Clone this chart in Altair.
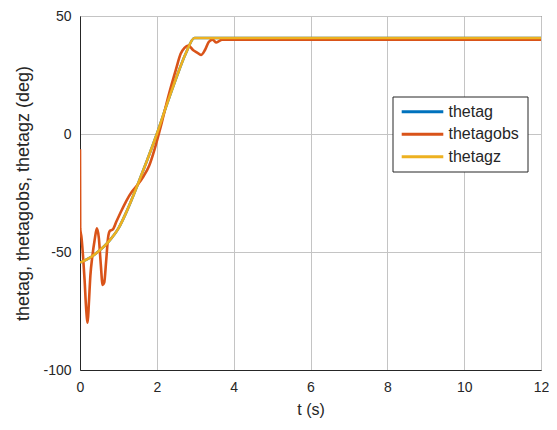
import altair as alt
import pandas as pd

# thetag (hidden under thetagz)
t_g = [0, 0.25, 0.5, 0.75, 1.0, 1.25, 1.5, 1.75, 2.0, 2.25, 2.5, 2.75, 2.98, 12]
v_g = [-54.5, -52.5, -49.5, -45.5, -40, -31.5, -21.5, -11, 0, 12, 23.5, 34, 40.7, 40.7]

# thetagobs
t_obs = [0, 0.005, 0.04, 0.08, 0.12, 0.16, 0.2, 0.23, 0.27, 0.32, 0.38, 0.44, 0.49,
         0.54, 0.59, 0.63, 0.68, 0.73, 0.78, 0.85, 0.95, 1.05, 1.2, 1.35, 1.5, 1.65,
         1.8, 1.95, 2.1, 2.3, 2.5, 2.62, 2.72, 2.82, 2.95, 3.05, 3.15, 3.25, 3.35,
         3.45, 3.55, 3.7, 12]
v_obs = [-6.5, -40, -44, -52, -62, -74, -80, -72, -60, -52, -45, -40, -44,
         -55, -64, -63, -54, -44, -41, -40.5, -37, -33.5, -28.5, -24.5, -21.5, -18,
         -13.5, -6, 3, 16, 27.5, 34, 36.5, 37.5, 35.5, 34.5, 33.5, 35.5, 39,
         40, 38.8, 40, 40]

# thetagz
t_z = [0, 0.25, 0.5, 0.75, 1.0, 1.25, 1.5, 1.75, 2.0, 2.25, 2.5, 2.75, 2.98, 12]
v_z = [-54.5, -52.5, -49.5, -45.5, -40, -31.5, -21.5, -11, 0, 12, 23.5, 34, 40.7, 40.7]

series = ["thetag", "thetagobs", "thetagz"]
colors = ["#0072BD", "#D95319", "#EDB120"]

rows = []
for name, ts, vs in [("thetag", t_g, v_g), ("thetagobs", t_obs, v_obs), ("thetagz", t_z, v_z)]:
    for i, (t, v) in enumerate(zip(ts, vs)):
        rows.append({"t": t, "v": v, "s": name, "i": i})
df = pd.DataFrame(rows)

font = "Liberation Sans"
ink = "#262626"

lines = alt.Chart(df).mark_line(strokeWidth=2.6, clip=True, interpolate="monotone").encode(
    x=alt.X("t:Q", scale=alt.Scale(domain=[0, 12], nice=False),
            axis=alt.Axis(values=[0, 2, 4, 6, 8, 10, 12], title="t (s)", ticks=False,
                          labelFlush=False, labelPadding=10, titlePadding=7,
                          titleFontSize=16)),
    y=alt.Y("v:Q", scale=alt.Scale(domain=[-100, 50], nice=False),
            axis=alt.Axis(values=[-100, -50, 0, 50], title="thetag, thetagobs, thetagz (deg)",
                          labelExpr="'' + datum.value",
                          ticks=False, labelFlush=False, labelPadding=9, titlePadding=10,
                          titleFontSize=18)),
    color=alt.Color("s:N", scale=alt.Scale(domain=series, range=colors), legend=None),
    order="i:Q",
)

# manual legend box (pixel positions relative to the plot area)
box_x0, box_x1, box_y0, box_y1 = 313, 448, 81, 156
row_y = [95.7, 118.3, 140.7]
sym_x0, sym_x1, lab_x = 321.7, 363.3, 368.5

one = pd.DataFrame({"k": [0]})
layers = [lines,
          alt.Chart(one).mark_rect(fill="white", stroke=ink, strokeWidth=1).encode(
              x=alt.value(box_x0), x2=alt.value(box_x1),
              y=alt.value(box_y0), y2=alt.value(box_y1))]
for name, col, yy in zip(series, colors, row_y):
    layers.append(alt.Chart(one).mark_rule(color=col, strokeWidth=3).encode(
        x=alt.value(sym_x0), x2=alt.value(sym_x1), y=alt.value(yy)))
    layers.append(alt.Chart(one).mark_text(text=name, align="left", baseline="middle",
                                           font=font, fontSize=16, color=ink).encode(
        x=alt.value(lab_x), y=alt.value(yy)))

chart = alt.layer(*layers).properties(
    width=461, height=354,
    autosize="none",
    padding={"left": 72, "top": 8, "right": 8, "bottom": 52},
).configure_view(
    stroke=ink, strokeWidth=1
).configure_axis(
    grid=True, gridColor="#c4c4c4", gridWidth=1,
    domainColor=ink, labelFont=font, titleFont=font,
    labelFontSize=14, labelColor=ink, titleColor=ink,
    titleFontWeight="normal"
)

chart.save("out.html", embed_options={"renderer": "svg", "actions": False})
